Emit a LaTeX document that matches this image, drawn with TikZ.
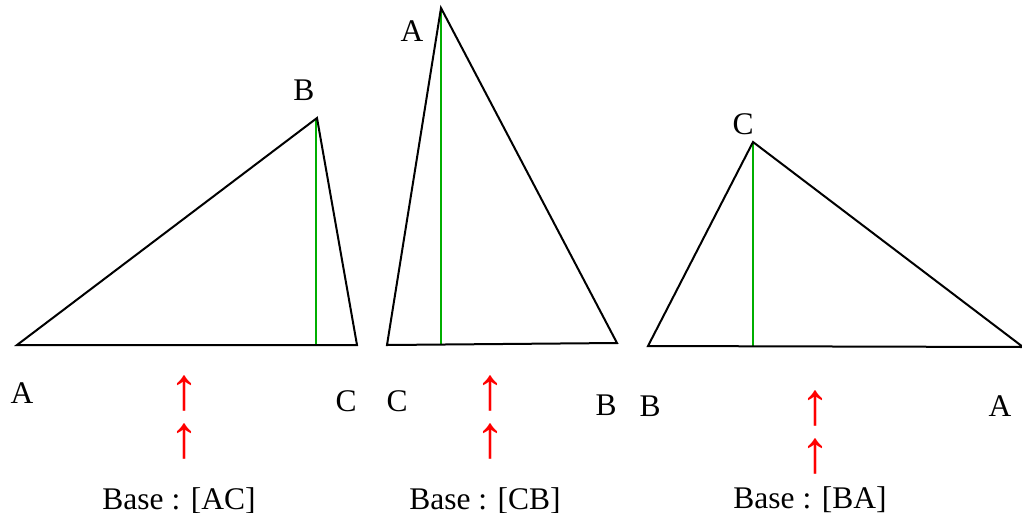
\documentclass[tikz,border=0pt]{standalone}
\usepackage{fontspec}
\setmainfont{Liberation Serif}
\definecolor{altgreen}{RGB}{0,175,0}
\definecolor{arrred}{RGB}{255,0,0}
\begin{document}
\begin{tikzpicture}[x=1pt,y=-1pt,
  tri/.style={draw=black,line width=2pt,line join=miter},
  alt/.style={draw=altgreen,line width=2pt},
  lbl/.style={anchor=base,inner sep=0pt,font=\fontsize{31.5}{36}\selectfont},
  uparr/.style={anchor=center,inner sep=0pt,text=arrred,font=\fontsize{60}{66}\selectfont}]
\useasboundingbox (0,0) rectangle (1022,512);
% triangle 1
\coordinate (A1) at (17,345);
\coordinate (C1) at (357,345);
\coordinate (B1) at (317,118);
\coordinate (H1) at (316,345);
\draw[alt] (316,118) -- (H1);
\draw[tri] (A1) -- (C1) -- (B1) -- cycle;
% triangle 2
\coordinate (C2) at (387,345);
\coordinate (B2) at (617,343);
\coordinate (A2) at (441,8);
\coordinate (H2) at (441,344.5);
\draw[alt] (A2) -- (H2);
\draw[tri] (C2) -- (B2) -- (A2) -- cycle;
% triangle 3
\coordinate (B3) at (648,346);
\coordinate (A3) at (1023,347);
\coordinate (C3) at (753,142);
\coordinate (H3) at (753,346.5);
\draw[alt] (C3) -- (H3);
\draw[tri] (B3) -- (A3) -- (C3) -- cycle;
% vertex labels
\node[lbl] (lA1) at (22,403) {A};
\node[lbl] (lC1) at (346,411) {C};
\node[lbl] (lB1) at (304,100) {B};
\node[lbl] (lC2) at (397,411) {C};
\node[lbl] (lB2) at (606,415) {B};
\node[lbl] (lA2) at (412,41) {A};
\node[lbl] (lB3) at (650,416) {B};
\node[lbl] (lA3) at (1000,416) {A};
\node[lbl] (lC3) at (743,134) {C};
% arrows
\node[uparr] (u11) at (184,393.5) {↑};
\node[uparr] (u12) at (184,442) {↑};
\node[uparr] (u21) at (490,393.5) {↑};
\node[uparr] (u22) at (490,442) {↑};
\node[uparr] (u31) at (815,408.5) {↑};
\node[uparr] (u32) at (815,456.5) {↑};
% base labels
\node[lbl] (b1) at (179,509) {Base : [AC]};
\node[lbl] (b2) at (485,509) {Base : [CB]};
\node[lbl] (b3) at (810,508) {Base : [BA]};
\end{tikzpicture}
\end{document}
